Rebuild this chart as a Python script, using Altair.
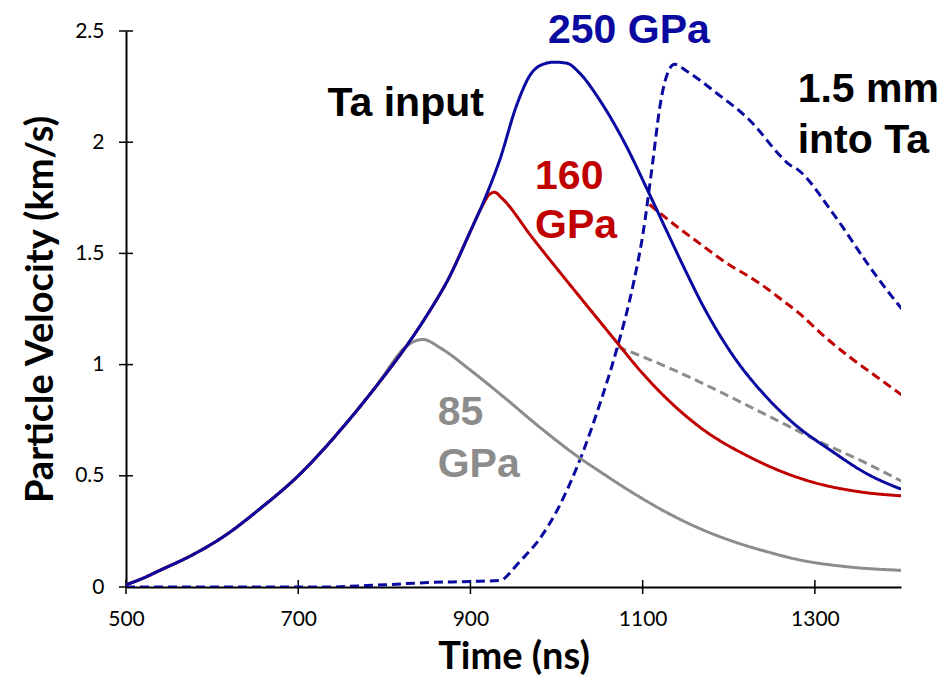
import altair as alt
import pandas as pd

# ---------------- data ----------------
x_ticks = [500, 700, 900, 1100, 1300]
y_ticks = [0, 0.5, 1, 1.5, 2, 2.5]

# Ta input, 250 GPa (solid blue)
t_in_250 = [500, 520, 540, 577, 616, 655, 700, 750, 790, 825, 850, 875, 900, 915, 934, 954, 969, 984, 998,
            1012, 1027, 1050, 1080, 1105, 1128, 1150, 1170, 1205, 1240, 1274, 1320, 1360, 1400]
v_in_250 = [0.01, 0.04, 0.076, 0.144, 0.234, 0.35, 0.50, 0.71, 0.90, 1.08, 1.225, 1.39, 1.60, 1.73, 1.92, 2.17, 2.30, 2.35, 2.36,
            2.355, 2.31, 2.19, 1.99, 1.79, 1.60, 1.42, 1.265, 1.04, 0.87, 0.74, 0.61, 0.51, 0.44]

# Ta input, 160 GPa (solid red)
t_in_160 = [500, 520, 540, 577, 616, 655, 700, 750, 790, 825, 850, 875, 900, 912, 922, 928, 936, 972,
            1030, 1050, 1070, 1100, 1166, 1224, 1290, 1352, 1400]
v_in_160 = [0.01, 0.04, 0.076, 0.144, 0.234, 0.35, 0.50, 0.71, 0.90, 1.08, 1.225, 1.39, 1.60, 1.70, 1.765, 1.775, 1.75, 1.57,
            1.29, 1.195, 1.10, 0.96, 0.72, 0.585, 0.48, 0.428, 0.41]

# Ta input, 85 GPa (solid grey)
t_in_85 = [500, 520, 540, 577, 616, 655, 700, 750, 790, 825, 835, 845, 865, 900, 940, 980, 1027, 1050,
           1090, 1128, 1165, 1205, 1245, 1282, 1340, 1400]
v_in_85 = [0.01, 0.04, 0.076, 0.144, 0.234, 0.35, 0.50, 0.71, 0.90, 1.08, 1.105, 1.113, 1.075, 0.975, 0.85, 0.72, 0.58, 0.52,
           0.42, 0.335, 0.265, 0.205, 0.158, 0.122, 0.09, 0.075]

# 1.5 mm into Ta, 250 GPa (dashed blue)
t_mm_250 = [500, 740, 770, 800, 850, 900, 935, 945, 954, 981, 1000, 1015, 1030, 1050, 1070, 1089, 1100, 1112,
            1120, 1128, 1137, 1151, 1186, 1224, 1262, 1270, 1279, 1321, 1360, 1371, 1402]
v_mm_250 = [0.0, 0.0, 0.005, 0.01, 0.02, 0.025, 0.03, 0.06, 0.10, 0.22, 0.34, 0.46, 0.60, 0.82, 1.07, 1.36, 1.58, 1.92,
            2.16, 2.30, 2.35, 2.32, 2.22, 2.10, 1.93, 1.90, 1.88, 1.68, 1.46, 1.40, 1.245]

# 1.5 mm into Ta, 160 GPa (dashed red)
t_mm_160 = [1108, 1140, 1166, 1200, 1228, 1245, 1262, 1282, 1310, 1340, 1370, 1402]
v_mm_160 = [1.72, 1.62, 1.545, 1.45, 1.385, 1.34, 1.29, 1.23, 1.13, 1.035, 0.95, 0.86]

# 1.5 mm into Ta, 85 GPa (dashed grey)
t_mm_85 = [1071, 1128, 1186, 1244, 1302, 1360, 1402]
v_mm_85 = [1.08, 0.99, 0.885, 0.773, 0.66, 0.556, 0.473]

series_names = ["mm85", "mm160", "mm250", "in85", "in160", "in250"]
series_colors = ["#8C8C8C", "#C00000", "#0A0AA0", "#8C8C8C", "#C00000", "#0A0AA0"]
series_dashes = [[9, 5], [9, 5], [9, 5], [1, 0], [1, 0], [1, 0]]

# annotations
ann_text = ["Ta input", "250 GPa", "1.5 mm", "into Ta", "160", "GPa", "85", "GPa"]
ann_t = [734, 990, 1280, 1280, 975, 975, 862, 862]
ann_v = [2.12, 2.448, 2.179, 1.95, 1.79, 1.568, 0.728, 0.494]
ann_color = ["#000000", "#0A0AA0", "#000000", "#000000", "#C00000", "#C00000", "#8C8C8C", "#8C8C8C"]

# ---------------- build tables ----------------
series_data = {
    "in250": (t_in_250, v_in_250), "in160": (t_in_160, v_in_160), "in85": (t_in_85, v_in_85),
    "mm250": (t_mm_250, v_mm_250), "mm160": (t_mm_160, v_mm_160), "mm85": (t_mm_85, v_mm_85),
}
rows = []
for name, (ts, vs) in series_data.items():
    for t, v in zip(ts, vs):
        rows.append({"series": name, "t": t, "v": v})
df = pd.DataFrame(rows)
df_ann = pd.DataFrame({"label": ann_text, "t": ann_t, "v": ann_v, "col": ann_color})
df_xt = pd.DataFrame({"t": x_ticks})
df_yt = pd.DataFrame({"v": y_ticks})

W, H = 775, 556

x_scale = alt.Scale(domain=[500, 1400], nice=False, zero=False)
y_scale = alt.Scale(domain=[0, 2.5], nice=False, zero=False)

x_axis = alt.Axis(values=x_ticks, format="d", title="Time (ns)", grid=False, ticks=False, tickSize=0,
                  domainColor="black", domainWidth=2, labelFont="Lato", labelFontSize=21, labelColor="black",
                  labelPadding=21, labelFlush=False, titleFont="Lato", titleFontSize=38, titleFontWeight="bold",
                  titleColor="black", titlePadding=9)
y_axis = alt.Axis(values=y_ticks, format="~g", title="Particle Velocity (km/s)", grid=False, ticks=False,
                  tickSize=0, domainColor="black", domainWidth=2, labelFont="Lato", labelFontSize=21,
                  labelColor="black", labelPadding=22, labelFlush=False, titleFont="Lato", titleFontSize=38,
                  titleFontWeight="bold", titleColor="black", titlePadding=14)

X = alt.X("t:Q", scale=x_scale, axis=x_axis)
Y = alt.Y("v:Q", scale=y_scale, axis=y_axis)

layers = []
# cross tick marks on both axes
layers.append(alt.Chart(df_yt).mark_rule(color="black", strokeWidth=1.5).encode(
    y=Y, x=alt.value(-7), x2=alt.value(7)))
layers.append(alt.Chart(df_xt).mark_rule(color="black", strokeWidth=1.5).encode(
    x=X, y=alt.value(H - 7), y2=alt.value(H + 7)))

for name in series_names:
    layers.append(
        alt.Chart(df).transform_filter(alt.datum.series == name)
        .mark_line(interpolate="monotone", strokeWidth=3, clip=True)
        .encode(
            x=X, y=Y,
            color=alt.Color("series:N", scale=alt.Scale(domain=series_names, range=series_colors), legend=None),
            strokeDash=alt.StrokeDash("series:N", scale=alt.Scale(domain=series_names, range=series_dashes), legend=None),
        )
    )

for c in sorted(set(ann_color)):
    layers.append(
        alt.Chart(df_ann).transform_filter(alt.datum.col == c)
        .mark_text(align="left", baseline="alphabetic", font="Liberation Sans", fontWeight="bold",
                   fontSize=41, color=c)
        .encode(x=X, y=Y, text="label:N")
    )

chart = alt.layer(*layers).properties(
    width=W, height=H,
    autosize=alt.AutoSizeParams(type="none"),
    padding={"left": 126, "top": 31, "right": 48, "bottom": 94},
    background="white",
).configure_view(strokeWidth=0)

chart.save("out.html", embed_options={"renderer": "svg", "actions": False})
